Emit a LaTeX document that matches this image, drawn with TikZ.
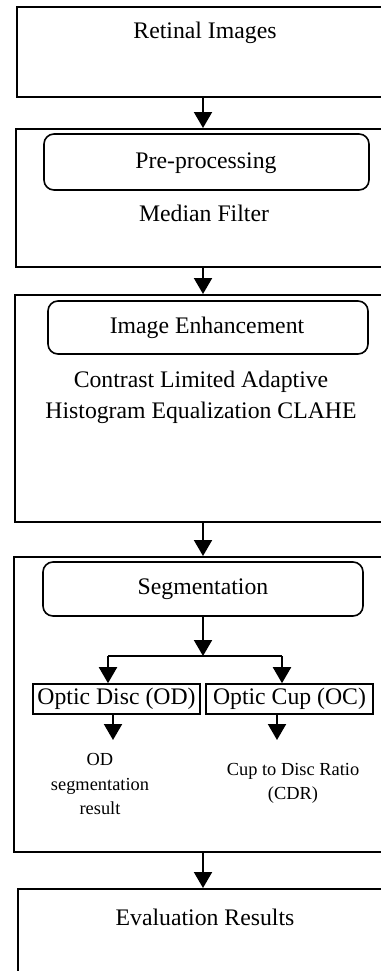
\documentclass[tikz,border=0pt]{standalone}
\usepackage{fontspec}
\setmainfont{Liberation Serif}
\usetikzlibrary{arrows.meta,fit}
\begin{document}
\begin{tikzpicture}[x=0.75pt,y=-0.75pt,
  stage/.style={draw,line width=1.5pt,inner sep=0pt,rectangle},
  title/.style={draw,line width=1.2pt,rounded corners=7.5pt,inner sep=0pt},
  part/.style={draw,line width=1.2pt,inner sep=0pt},
  lbl/.style={font=\fontsize{17.8}{23.2}\selectfont,align=center,inner sep=0pt},
  small/.style={font=\fontsize{13.8}{18.2}\selectfont,align=center,inner sep=0pt},
  arr/.style={line width=1.5pt,-{Triangle[length=12pt,width=13.5pt]}}
]
\useasboundingbox (0,0) rectangle (381,971);
\clip (0,0) rectangle (381,971);

% stage frames (they run past the right and bottom edges)
\node[stage,fit={(17,7)(389,97)}] (s1) {};
\node[stage,fit={(16,129)(390,267)}] (s2) {};
\node[stage,fit={(15,295)(391,522)}] (s3) {};
\node[stage,fit={(14,557)(392,852)}] (s4) {};
\node[stage,fit={(18,889)(388,1010)}] (s5) {};

% stage 1
\node[lbl] (t1) at (205,33) {Retinal Images};

% stage 2
\node[title,fit={(44,134)(369,190)}] (h2) {};
\node[lbl] (h2t) at (206,163) {Pre-processing};
\node[lbl] (t2) at (204,213) {Median Filter};

% stage 3
\node[title,fit={(48,301)(368,354)}] (h3) {};
\node[lbl] (h3t) at (207,328) {Image Enhancement};
\node[lbl] (t3) at (201,397) {Contrast Limited Adaptive\\Histogram Equalization CLAHE};

% stage 4
\node[title,fit={(43,562)(363,616)}] (h4) {};
\node[lbl] (h4t) at (203,589) {Segmentation};
\node[part,fit={(33,684)(200,714)}] (od) {};
\node[lbl] at (od.center) {Optic Disc (OD)};
\node[part,fit={(206,684)(373,714)}] (oc) {};
\node[lbl] at (oc.center) {Optic Cup (OC)};
\node[small] (odr) at (100,784) {OD\\segmentation\\result};
\node[small] (cdr) at (293,783) {Cup to Disc Ratio\\(CDR)};

% stage 5
\node[lbl] (t5) at (205,917) {Evaluation Results};

% main flow
\draw[arr] (s1.south -| 203,0) -- (s2.north -| 203,0);
\draw[arr] (s2.south -| 203,0) -- (s3.north -| 203,0);
\draw[arr] (s3.south -| 203,0) -- (s4.north -| 203,0);
\draw[arr] (s4.south -| 203,0) -- (s5.north -| 203,0);

% split inside segmentation
\coordinate (br) at (203,656);
\coordinate (brl) at (108,656);
\coordinate (brr) at (282,656);
\draw[arr] (h4.south -| br) -- (br);
\draw[line width=1.5pt] (brl) -- (brr);
\draw[arr] (brl) -- (od.north -| brl);
\draw[arr] (brr) -- (oc.north -| brr);

% results of the two branches
\coordinate (odend) at (113,740);
\coordinate (ocend) at (277,740);
\draw[arr] (od.south -| odend) -- (odend);
\draw[arr] (oc.south -| ocend) -- (ocend);
\end{tikzpicture}
\end{document}
